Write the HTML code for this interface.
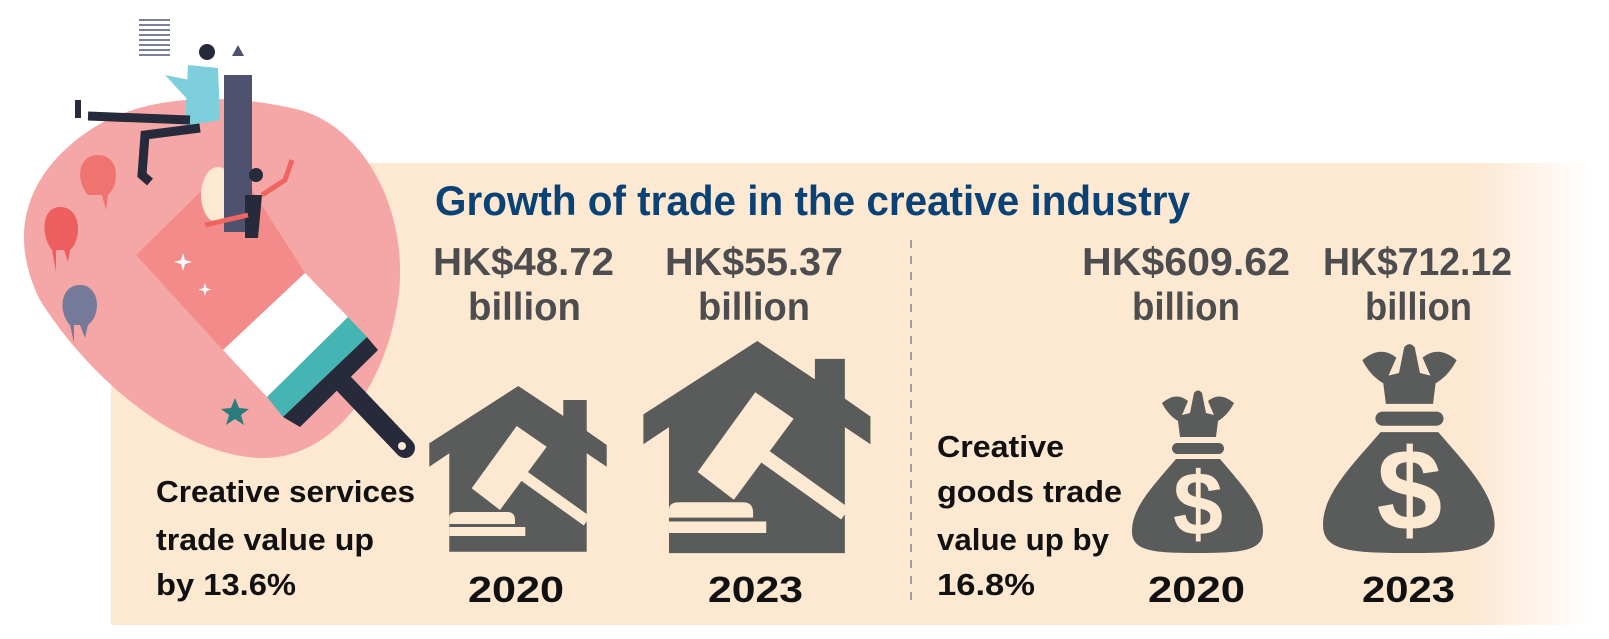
<!DOCTYPE html>
<html><head><meta charset="utf-8"><style>
html,body{margin:0;padding:0;background:#fff;width:1609px;height:639px;overflow:hidden}
svg{display:block}
text{font-family:"Liberation Sans",sans-serif;font-weight:bold}
</style></head><body>
<svg width="1609" height="639" viewBox="0 0 1609 639" xmlns="http://www.w3.org/2000/svg">
<defs>
<linearGradient id="fade2" x1="1473" x2="1590" y1="0" y2="0" gradientUnits="userSpaceOnUse">
<stop offset="0" stop-color="#fde8d2"/><stop offset="1" stop-color="#ffffff"/>
</linearGradient>
<g id="house">
<path fill="#5a5b5b" d="M89.3,0 L134.3,30 L134.3,14 L157.7,14 L157.7,45 L177.7,59 L177.7,80.7 L157.7,67.3 L157.7,165.7 L20.3,165.7 L20.3,67.3 L0.3,80.7 L0.3,57.3 Z"/>
<path fill="#fde8d2" d="M87.7,40 L117.7,60.7 L71,124 L42.7,102.3 Z"/>
<path stroke="#fde8d2" stroke-width="11" d="M95,90 L158,135"/>
<path fill="#fde8d2" d="M20.3,138 L20.3,132 Q20.3,126 28,126 L78,126 Q86,126 86,134 L86,138 Z"/>
<rect x="20.3" y="141" width="76" height="9" fill="#fde8d2"/>
</g>
<g id="bag">
<path fill="#5a5b5b" d="M30,18 Q44,6 56,16 L50,30 L58,28 L62,8 Q66,3 70,8 L74,28 L82,30 L76,16 Q88,6 102,18 Q96,30 86,36 L84,52 L48,52 L46,36 Q36,30 30,18 Z"/>
<rect x="40" y="58" width="52" height="11" rx="5.5" fill="#5a5b5b"/>
<path fill="#5a5b5b" d="M44,74 L88,74 C110,100 131,122 131,146 C131,166 110,168 65,168 C20,168 0,166 0,146 C0,122 22,100 44,74 Z"/>
<text x="66" y="150" text-anchor="middle" font-size="90" fill="#fde8d2">$</text>
</g>
</defs>
<rect x="111" y="163" width="1480" height="462" fill="url(#fade2)"/>
<rect x="111" y="163" width="1362" height="462" fill="#fde8d2"/>

<!-- illustration -->
<path fill="#f5a6a6" d="M90,130 C150,90 240,95 300,110 C370,130 410,220 398,300 C385,390 330,460 260,458 C180,455 90,380 40,300 C5,230 30,170 90,130 Z"/>
<path fill="#f28b89" d="M136,255 L233,160 L305,273 L223,350 Z"/>
<path fill="#ffffff" d="M305,273 L348,317 L267,397 L223,350 Z"/>
<path fill="#45b5b4" d="M348,317 L367,337 L283,417 L267,397 Z"/>
<path fill="#262a3b" d="M367,337 L378,350 L300,427 L283,417 Z"/>
<path stroke="#262a3b" stroke-width="20" stroke-linecap="round" d="M345,385 L405,448"/>
<circle cx="402" cy="446" r="4" fill="#fde8d2"/>
<ellipse cx="218" cy="195" rx="17" ry="28" fill="#fde8d2"/>
<rect x="224" y="75" width="28" height="157" fill="#4f526e"/>
<path fill="#4f526e" d="M238,45 L232,56 L244,56 Z"/>
<g fill="#7c7f9c"><rect x="139" y="19" width="31" height="2"/><rect x="139" y="24" width="31" height="2"/><rect x="139" y="29" width="31" height="2"/><rect x="139" y="34" width="31" height="2"/><rect x="139" y="39" width="31" height="2"/><rect x="139" y="44" width="31" height="2"/><rect x="139" y="49" width="31" height="2"/><rect x="139" y="54" width="31" height="2"/></g>
<path fill="#7ccfdb" d="M188,65 L218,68 L220,120 L185,126 Z M165,75 L190,80 L188,100 Z"/>
<circle cx="207" cy="52" r="8" fill="#262a3b"/>
<path stroke="#262a3b" stroke-width="9" fill="none" d="M88,116 L190,120 M200,128 L145,135 L142,175 L150,182"/>
<path stroke="#262a3b" stroke-width="6" d="M78,100 L78,118"/>
<path fill="#262a3b" d="M245,195 L262,195 L258,238 L245,238 Z"/>
<circle cx="256" cy="175" r="7" fill="#262a3b"/>
<path stroke="#ef6560" stroke-width="5" fill="none" d="M205,225 L248,215 M262,195 L285,180 L292,160"/>
<path fill="#ef7470" d="M98,155 C120,155 120,185 108,195 L106,210 L102,195 L88,195 C75,180 78,155 98,155 Z"/>
<path fill="#ef5e5e" d="M60,207 C82,207 82,240 70,250 L68,262 L64,250 L56,250 L56,272 L52,250 C40,235 42,207 60,207 Z"/>
<path fill="#757a99" d="M80,285 C100,285 102,315 88,325 L85,338 L80,325 L74,325 L74,343 L70,325 C58,312 60,285 80,285 Z"/>
<path fill="#2a7d7c" d="M235,398 L239,408 L249,409 L241,415 L244,425 L235,419 L226,425 L229,415 L221,409 L231,408 Z"/>
<path fill="#fff" d="M183,253 l2,7 7,2 -7,2 -2,7 -2,-7 -7,-2 7,-2z M205,283 l1.5,5 5,1.5 -5,1.5 -1.5,5 -1.5,-5 -5,-1.5 5,-1.5z"/>

<!-- title -->
<text x="435" y="215" font-size="42" fill="#0b4275" textLength="755" lengthAdjust="spacingAndGlyphs">Growth of trade in the creative industry</text>

<g fill="#4d4d4f" font-size="39">
<text x="433" y="275" textLength="181" lengthAdjust="spacingAndGlyphs">HK$48.72</text>
<text x="468" y="320" textLength="113" lengthAdjust="spacingAndGlyphs">billion</text>
<text x="665" y="275" textLength="178" lengthAdjust="spacingAndGlyphs">HK$55.37</text>
<text x="698" y="320" textLength="112" lengthAdjust="spacingAndGlyphs">billion</text>
<text x="1082" y="275" textLength="208" lengthAdjust="spacingAndGlyphs">HK$609.62</text>
<text x="1132" y="320" textLength="108" lengthAdjust="spacingAndGlyphs">billion</text>
<text x="1323" y="275" textLength="189" lengthAdjust="spacingAndGlyphs">HK$712.12</text>
<text x="1365" y="320" textLength="107" lengthAdjust="spacingAndGlyphs">billion</text>
</g>

<line x1="911" y1="240" x2="911" y2="607" stroke="#a0a0a0" stroke-width="2" stroke-dasharray="8,8"/>

<use href="#house" transform="translate(429,386)"/>
<use href="#house" transform="translate(643,341) scale(1.28)"/>
<use href="#bag" transform="translate(1132,385)"/>
<use href="#bag" transform="translate(1323,337) scale(1.31,1.286)"/>

<g fill="#111" font-size="31">
<text x="156" y="502" textLength="259" lengthAdjust="spacingAndGlyphs">Creative services</text>
<text x="156" y="550" textLength="218" lengthAdjust="spacingAndGlyphs">trade value up</text>
<text x="156" y="595" textLength="140" lengthAdjust="spacingAndGlyphs">by 13.6%</text>
<text x="937" y="457" textLength="127" lengthAdjust="spacingAndGlyphs">Creative</text>
<text x="937" y="502" textLength="185" lengthAdjust="spacingAndGlyphs">goods trade</text>
<text x="937" y="550" textLength="172" lengthAdjust="spacingAndGlyphs">value up by</text>
<text x="937" y="595" textLength="98" lengthAdjust="spacingAndGlyphs">16.8%</text>
</g>
<g fill="#111" font-size="36">
<text x="468" y="602" textLength="96" lengthAdjust="spacingAndGlyphs">2020</text>
<text x="708" y="602" textLength="95" lengthAdjust="spacingAndGlyphs">2023</text>
<text x="1148" y="602" textLength="97" lengthAdjust="spacingAndGlyphs">2020</text>
<text x="1362" y="602" textLength="93" lengthAdjust="spacingAndGlyphs">2023</text>
</g>
</svg>
</body></html>
